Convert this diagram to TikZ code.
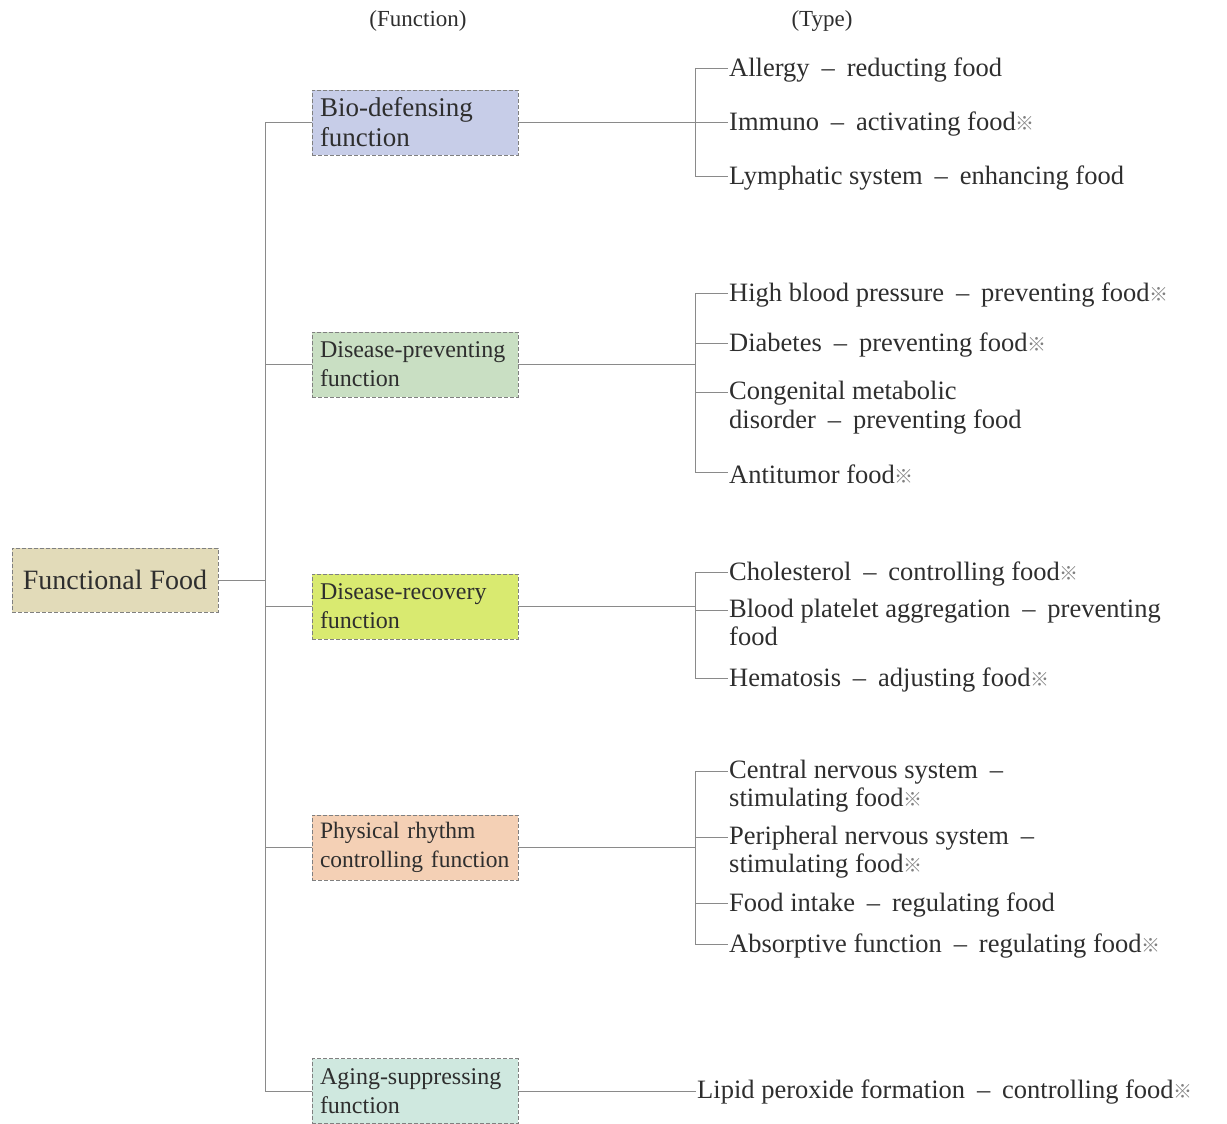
\documentclass[tikz,border=0pt]{standalone}
\usepackage{fontspec}
\setmainfont{Liberation Serif}
\newfontfamily\cjk{Noto Sans CJK JP}
\usetikzlibrary{calc}
\definecolor{txt}{HTML}{2E2E2E}
\definecolor{ln}{HTML}{8A8A8A}
\definecolor{ffc}{HTML}{E2DBB9}
\definecolor{bioc}{HTML}{C7CDE8}
\definecolor{dpc}{HTML}{C9DFC3}
\definecolor{drc}{HTML}{D9EA70}
\definecolor{prc}{HTML}{F4D0B5}
\definecolor{agc}{HTML}{CFE8DF}
\newcommand\dsh{\hspace{0.45em}–\hspace{0.45em}}
\newcommand\refm{{\cjk\fontsize{19}{19}\selectfont\textcolor{gray}{※}}}
\tikzset{
  boxbase/.style={draw=gray, dashed, dash pattern=on 4pt off 2pt, line width=0.8pt,
    minimum width=206pt, minimum height=65pt, text=txt},
  fbox/.style={boxbase, text width=190pt, inner xsep=8pt,
    align=left, font=\fontsize{24}{29}\selectfont},
  rootbox/.style={boxbase, minimum height=64pt, font=\fontsize{28}{30}\selectfont},
  item/.style={inner sep=1pt, text=txt, align=left, yshift=-2pt, font=\fontsize{26.5}{28}\selectfont},
  hdr/.style={text=txt, font=\fontsize{23}{24}\selectfont},
  conn/.style={draw=ln, line width=0.9pt}
}
\begin{document}
\begin{tikzpicture}[x=1pt,y=-1pt]
\useasboundingbox (0,0) rectangle (1227,1124);
% headers
\node[hdr] (h1) at (418,21) {(Function)};
\node[hdr] (h2) at (822,21) {(Type)};
% root
\node[rootbox, fill=ffc] (ff) at (115,580) {Functional Food};
% function boxes
\node[fbox, fill=bioc, font=\fontsize{27}{30}\selectfont] (bio) at (415,122.5) {Bio-defensing\\function};
\node[fbox, fill=dpc] (dp) at (415,364.5) {Disease-preventing\\function};
\node[fbox, fill=drc] (dr) at (415,606.5) {Disease-recovery\\function};
\node[fbox, fill=prc, font=\fontsize{23.5}{29}\selectfont] (pr) at (415,847.5) {Physical rhythm\\controlling function};
\node[fbox, fill=agc] (ag) at (415,1091) {Aging-suppressing\\function};
% spine
\coordinate (sp) at (265,0);
\coordinate (br) at (695,0);
\draw[conn] (ff.east) -- (ff.east -| sp);
\draw[conn] (bio.west -| sp) -- (ag.west -| sp);
\foreach \b in {bio,dp,dr,pr,ag} \draw[conn] (\b.west -| sp) -- (\b.west);
% item end points
\coordinate (pa1) at (728,68);  \coordinate (pa2) at (728,122); \coordinate (pa3) at (728,176);
\coordinate (pb1) at (728,293); \coordinate (pb2) at (728,343); \coordinate (pb3) at (728,392); \coordinate (pb4) at (728,472);
\coordinate (pc1) at (728,572); \coordinate (pc2) at (728,610); \coordinate (pc3) at (728,678);
\coordinate (pd1) at (728,771); \coordinate (pd2) at (728,837); \coordinate (pd3) at (728,903); \coordinate (pd4) at (728,944);
% items
\node[item, anchor=west] (a1) at (pa1) {Allergy\dsh reducting food};
\node[item, anchor=west] (a2) at (pa2) {Immuno\dsh activating food\refm};
\node[item, anchor=west] (a3) at (pa3) {Lymphatic system\dsh enhancing food};
\node[item, anchor=west] (b1) at (pb1) {High blood pressure\dsh preventing food\refm};
\node[item, anchor=west] (b2) at (pb2) {Diabetes\dsh preventing food\refm};
\node[item, anchor=north west] (b3) at ($(pb3)+(0,-14)$) {Congenital metabolic\\[1pt]disorder\dsh preventing food};
\node[item, anchor=west] (b4) at (pb4) {Antitumor food\refm};
\node[item, anchor=west] (c1) at (pc1) {Cholesterol\dsh controlling food\refm};
\node[item, anchor=north west] (c2) at ($(pc2)+(0,-14)$) {Blood platelet aggregation\dsh preventing\\food};
\node[item, anchor=west] (c3) at (pc3) {Hematosis\dsh adjusting food\refm};
\node[item, anchor=north west] (d1) at ($(pd1)+(0,-14)$) {Central nervous system\dsh\\stimulating food\refm};
\node[item, anchor=north west] (d2) at ($(pd2)+(0,-14)$) {Peripheral nervous system\dsh\\stimulating food\refm};
\node[item, anchor=west] (d3) at (pd3) {Food intake\dsh regulating food};
\node[item, anchor=west] (d4) at (pd4) {Absorptive function\dsh regulating food\refm};
\node[item, anchor=west, yshift=1pt] (e1) at (696,1091) {Lipid peroxide formation\dsh controlling food\refm};
% brackets
\draw[conn] (bio.east) -- (bio.east -| br);
\draw[conn] (pa1 -| br) -- (pa3 -| br);
\foreach \p in {pa1,pa2,pa3} \draw[conn] (\p -| br) -- (\p);
\draw[conn] (dp.east) -- (dp.east -| br);
\draw[conn] (pb1 -| br) -- (pb4 -| br);
\foreach \p in {pb1,pb2,pb3,pb4} \draw[conn] (\p -| br) -- (\p);
\draw[conn] (dr.east) -- (dr.east -| br);
\draw[conn] (pc1 -| br) -- (pc3 -| br);
\foreach \p in {pc1,pc2,pc3} \draw[conn] (\p -| br) -- (\p);
\draw[conn] (pr.east) -- (pr.east -| br);
\draw[conn] (pd1 -| br) -- (pd4 -| br);
\foreach \p in {pd1,pd2,pd3,pd4} \draw[conn] (\p -| br) -- (\p);
\draw[conn] (ag.east) -- (ag.east -| e1.west);
\end{tikzpicture}
\end{document}
